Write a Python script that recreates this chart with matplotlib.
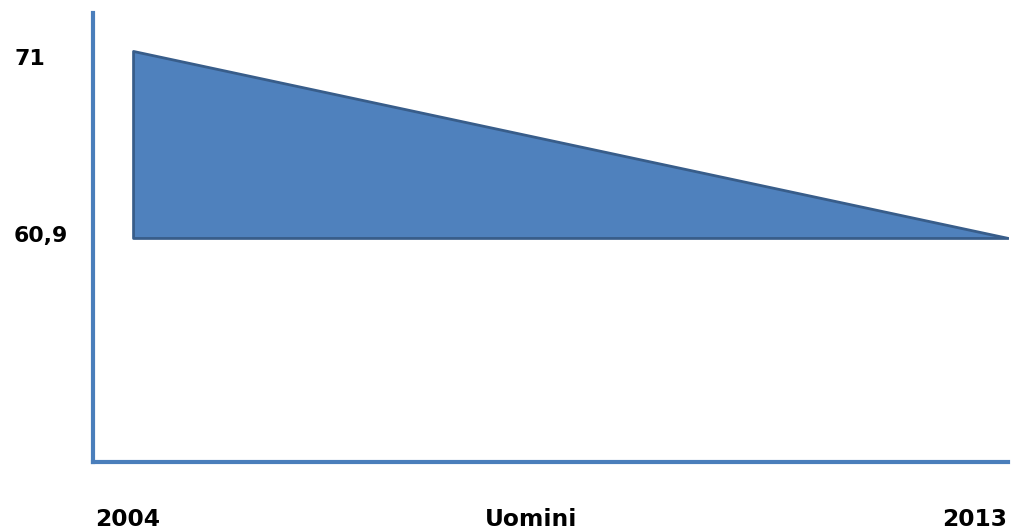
import matplotlib
matplotlib.use("Agg")
import matplotlib.pyplot as plt
from matplotlib.transforms import blended_transform_factory

years = [2004, 2013]
values = [71, 60.9]
value_labels = ["71", "60,9"]
x_labels = ["2004", "Uomini", "2013"]

W, H = 1011, 529
fig = plt.figure(figsize=(W / 100, H / 100), dpi=100)
fig.patch.set_facecolor("white")

# axes placement in pixels
left_px, right_px, top_px, bottom_px = 93, 1008, 13, 462
ax = fig.add_axes([left_px / W, 1 - bottom_px / H,
                   (right_px - left_px) / W, (bottom_px - top_px) / H])

base = min(values)
ax.fill_between(years, values, base, facecolor="#4F81BD",
                edgecolor="#385D8A", linewidth=2, zorder=2)

ax.set_xlim(2003.588, 2013.0)
ax.set_ylim(48.80, 73.05)

for s in ["top", "right"]:
    ax.spines[s].set_visible(False)
for s in ["left", "bottom"]:
    ax.spines[s].set_color("#4A7EBB")
    ax.spines[s].set_linewidth(3)
    ax.spines[s].set_capstyle("projecting")
ax.set_xticks([])
ax.set_yticks([])

yfont = dict(family="DejaVu Sans", fontweight="bold", fontsize=15.8, color="black")
xfont = dict(family="DejaVu Sans", fontweight="bold", fontsize=16.8, color="black")
tr = blended_transform_factory(fig.transFigure, ax.transData)
# baseline offsets (pixels, downward positive) relative to the value position
offsets = [-14, -4]
for v, lab, off in zip(values, value_labels, offsets):
    ax.annotate(lab, xy=(14 / W, v), xycoords=tr, xytext=(0, off),
                textcoords="offset pixels", ha="left", va="baseline", **yfont)

x_pos = [128, 531, 975]
for xp, lab in zip(x_pos, x_labels):
    fig.text(xp / W, 1 - 526 / H, lab, ha="center", va="baseline", **xfont)

fig.savefig("out.png", dpi=100, facecolor="white")
